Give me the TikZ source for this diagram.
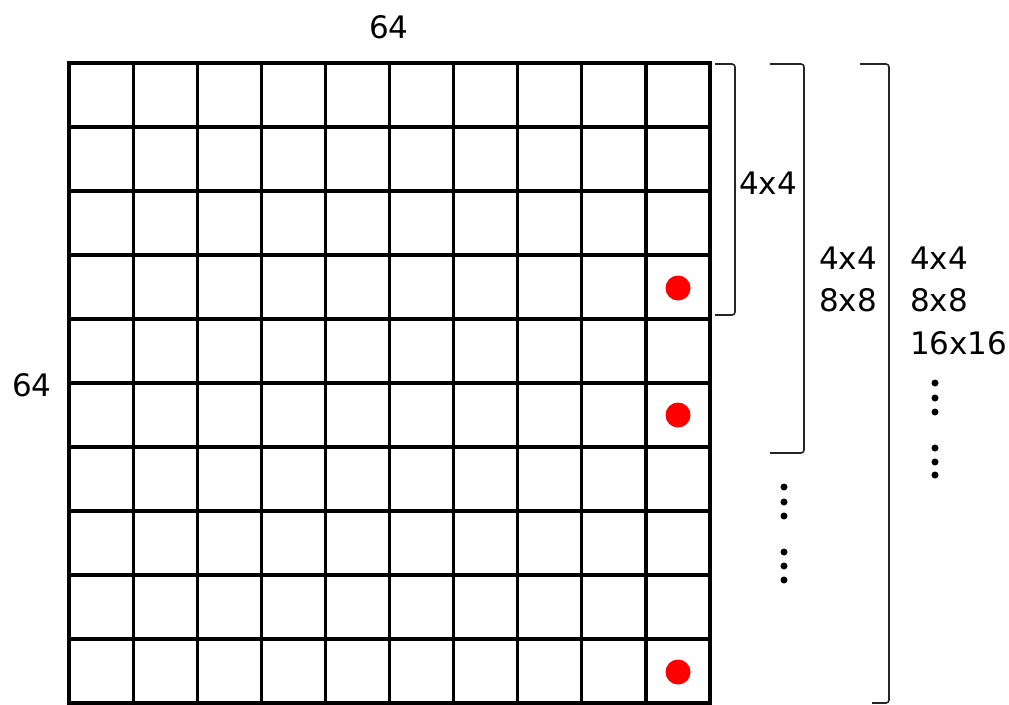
\documentclass[tikz,border=0pt]{standalone}
\usepackage{fontspec}
\setmainfont{DejaVu Sans}
\begin{document}
\begin{tikzpicture}[x=1pt,y=-1pt,
  gridline/.style={line width=3.2pt, black, line cap=rect},
  bracketline/.style={line width=1.6pt, black!85, rounded corners=3pt},
  reddot/.style={circle, fill=red, minimum size=25pt, inner sep=0pt},
  vdot/.style={circle, fill=black, minimum size=7pt, inner sep=0pt},
  lbl/.style={font=\fontsize{31}{42}\selectfont, inner sep=0pt}]
\useasboundingbox (0,0) rectangle (1009,704);
% grid
\foreach \i in {0,...,10} {
  \draw[gridline] ({69+64.1*\i},63) -- ({69+64.1*\i},703);
  \draw[gridline] (69,{63+64*\i}) -- (710,{63+64*\i});
}
% red dots
\node[reddot] (d1) at (678,288) {};
\node[reddot] (d2) at (678,415) {};
\node[reddot] (d3) at (678,672) {};
% size labels
\node[lbl] (top) at (389,27) {64};
\node[lbl] (left) at (32,385) {64};
% brackets
\draw[bracketline] (715,64) -- (735,64) -- (735,315) -- (715,315);
\draw[bracketline] (770,64) -- (804,64) -- (804,453) -- (770,453);
\draw[bracketline] (860,64) -- (889,64) -- (889,703) -- (872,703);
% bracket labels
\node[lbl] (b1) at (768,183) {4x4};
\node[lbl] (b2a) at (848,258) {4x4};
\node[lbl] (b2b) at (848,300) {8x8};
\node[lbl, anchor=west] (b3a) at (910,258) {4x4};
\node[lbl, anchor=west] (b3b) at (910,300) {8x8};
\node[lbl, anchor=west] (b3c) at (910,343) {16x16};
% vertical ellipses
\foreach \y [count=\k] in {487,502,516,552,566,580}
  \node[vdot] (m\k) at (784,\y) {};
\foreach \y [count=\k] in {383,398,412,448,462,475}
  \node[vdot] (r\k) at (935,\y) {};
\end{tikzpicture}
\end{document}
